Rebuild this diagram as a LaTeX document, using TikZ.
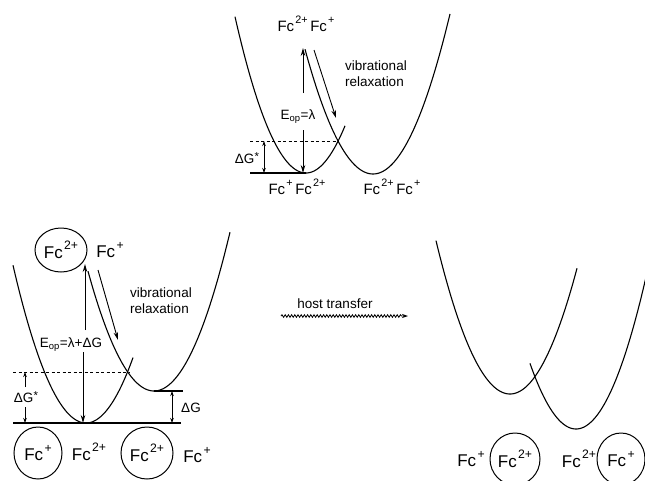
\documentclass[tikz,border=0pt]{standalone}
\usepackage{fontspec}
\usepackage{graphicx}
\setmainfont{Liberation Sans}
\usetikzlibrary{arrows.meta,shapes.geometric,decorations.pathmorphing}
\newcommand\sps[1]{\kern0.08em\raisebox{0.5em}{\scalebox{0.72}{#1}}}
\newcommand\dgstar{\kern0.03em\raisebox{0.22em}{\scalebox{0.85}{*}}}
\begin{document}
\begin{tikzpicture}[x=1pt,y=-1pt,
  curve/.style={line width=1.1pt},
  base/.style={line width=1.4pt},
  arr/.style={line width=0.9pt,-{Stealth[length=8pt,width=4.5pt]}},
  darr/.style={line width=0.8pt,{Stealth[length=5pt,width=3.5pt]}-{Stealth[length=5pt,width=3.5pt]}},
  sarr/.style={line width=0.8pt,-{Stealth[length=5pt,width=3.5pt]}},
  dashline/.style={line width=0.9pt,dash pattern=on 3pt off 2.5pt},
  lbl/.style={inner sep=0pt,font=\fontsize{13.5}{16}\selectfont},
  fctop/.style={inner sep=0pt,font=\fontsize{15}{17}\selectfont},
  fc/.style={inner sep=0pt,font=\fontsize{17}{19}\selectfont},
  ring/.style={ellipse,draw,line width=1pt,inner sep=0pt,font=\fontsize{17}{19}\selectfont},
]
\useasboundingbox (0,0) rectangle (645,480);

% ================= top diagram =================
\draw[curve] plot[domain=235:345,samples=80,smooth] (\x,{173-0.031*(\x-306)^2});
\draw[curve] plot[domain=305:450,samples=80,smooth] (\x,{174-0.027*(\x-373)^2});
\coordinate (tb1) at (250,173); \coordinate (tb2) at (306,173);
\draw[base] (tb1) -- (tb2);
\coordinate (td1) at (250,141); \coordinate (td2) at (338,141);
\draw[dashline] (td1) -- (td2);
\coordinate (tg1) at (264,141); \coordinate (tg2) at (264,173);
\draw[darr] (tg1) -- (tg2);
\node[lbl] (tgl) at (247,158) {ΔG\dgstar};
\coordinate (tu1) at (303,93); \coordinate (tu2) at (303,48);
\draw[arr] (tu1) -- (tu2);
\coordinate (tdn1) at (303,130); \coordinate (tdn2) at (303,173);
\draw[arr] (tdn1) -- (tdn2);
\node[lbl] (tel) at (298,117) {E\textsubscript{op}=λ};
\coordinate (tr1) at (314,50); \coordinate (tr2) at (336,118);
\draw[arr] (tr1) -- (tr2);
\node[lbl,align=left] (tvr) at (376,74) {vibrational\\relaxation};
\node[fctop] (ttop) at (306,24) {Fc\sps{2+}\,Fc\sps{+}};
\node[fctop] (tbl) at (297,187) {Fc\sps{+}\,Fc\sps{2+}};
\node[fctop] (tbr) at (392,187) {Fc\sps{2+}\,Fc\sps{+}};

% ================= bottom-left diagram =================
\draw[curve] plot[domain=13:133,samples=80,smooth] (\x,{423-0.0296*(\x-86)^2});
\draw[curve] plot[domain=88:230,samples=80,smooth] (\x,{391-0.0275*(\x-154)^2});
\coordinate (lb1) at (13,423); \coordinate (lb2) at (181,423);
\draw[base] (lb1) -- (lb2);
\coordinate (lm1) at (154,391); \coordinate (lm2) at (183,391);
\draw[base] (lm1) -- (lm2);
\coordinate (ld1) at (13,372); \coordinate (ld2) at (129,372);
\draw[dashline] (ld1) -- (ld2);
\coordinate (lga1) at (25,387); \coordinate (lga2) at (25,372);
\draw[sarr] (lga1) -- (lga2);
\coordinate (lgb1) at (25,407); \coordinate (lgb2) at (25,423);
\draw[sarr] (lgb1) -- (lgb2);
\node[lbl] (lgl) at (26,397) {ΔG\dgstar};
\coordinate (lgc1) at (172,391); \coordinate (lgc2) at (172,423);
\draw[darr] (lgc1) -- (lgc2);
\node[lbl] (lgcl) at (191,408) {ΔG};
\coordinate (lu1) at (85,330); \coordinate (lu2) at (85,264);
\draw[arr] (lu1) -- (lu2);
\coordinate (ldn1) at (83,352); \coordinate (ldn2) at (83,423);
\draw[arr] (ldn1) -- (ldn2);
\node[lbl] (lel) at (71,345) {E\textsubscript{op}=λ+ΔG};
\coordinate (lr1) at (98,270); \coordinate (lr2) at (118,340);
\draw[arr] (lr1) -- (lr2);
\node[lbl,align=left] (lvr) at (161,301) {vibrational\\relaxation};
\node[ring,minimum width=52pt,minimum height=44pt] (lc1) at (61,250) {Fc\sps{2+}};
\node[fc] (lt2) at (110,250) {Fc\sps{+}};
\node[ring,minimum width=48pt,minimum height=52pt] (lc2) at (38,453) {Fc\sps{+}};
\node[fc] (lt3) at (89,452) {Fc\sps{2+}};
\node[ring,minimum width=52pt,minimum height=52pt] (lc3) at (147,453) {Fc\sps{2+}};
\node[fc] (lt4) at (197,455) {Fc\sps{+}};

% ================= host transfer =================
\node[lbl] (ht) at (335,304) {host transfer};
\coordinate (w1) at (281,316); \coordinate (w2) at (408,316);
\draw[line width=0.8pt,decorate,decoration={snake,amplitude=1.3pt,segment length=3.2pt,post length=6pt},-{Stealth[length=6pt,width=4pt]}] (w1) -- (w2);

% ================= right diagram =================
\draw[curve] plot[domain=436:577,samples=80,smooth] (\x,{394-0.028*(\x-510)^2});
\draw[curve] plot[domain=530:647,samples=80,smooth] (\x,{429-0.031*(\x-576)^2});
\node[fc] (rt1) at (471,459) {Fc\sps{+}};
\node[ring,minimum width=50pt,minimum height=52pt] (rc1) at (515,459) {Fc\sps{2+}};
\node[fc] (rt2) at (579,459) {Fc\sps{2+}};
\node[ring,minimum width=48pt,minimum height=52pt] (rc2) at (621,459) {Fc\sps{+}};
\end{tikzpicture}
\end{document}
